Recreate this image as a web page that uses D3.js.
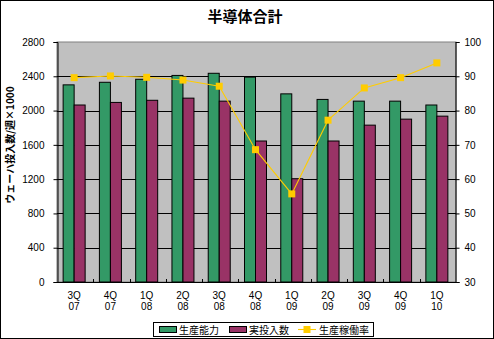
<!DOCTYPE html>
<html>
<head>
<meta charset="utf-8">
<script src="https://cdn.jsdelivr.net/npm/d3@7"></script>
<style>
  html, body { margin: 0; padding: 0; background: #fff; }
  svg { display: block; }
  text { font-family: "Liberation Sans", "Noto Sans CJK JP", sans-serif; }
  .jp { font-family: "Noto Sans CJK JP", sans-serif; }
</style>
</head>
<body>
<svg id="chart" width="494" height="339"></svg>
<script>
// Quarterly semiconductor wafer capacity, actual starts and utilisation
const quarters = ["3Q|07", "4Q|07", "1Q|08", "2Q|08", "3Q|08", "4Q|08", "1Q|09", "2Q|09", "3Q|09", "4Q|09", "1Q|10"];
const capacity = [2300, 2330, 2365, 2410, 2435, 2390, 2195, 2130, 2110, 2110, 2065];
const starts   = [2065, 2095, 2120, 2145, 2110, 1645, 1205, 1645, 1830, 1900, 1935];
const utilization = [89.6, 90.1, 89.7, 88.9, 87.1, 68.6, 55.7, 77.2, 86.6, 89.6, 93.9];
const leftTicks = [0, 400, 800, 1200, 1600, 2000, 2400, 2800];
const rightTicks = [30, 40, 50, 60, 70, 80, 90, 100];

const svg = d3.select("#chart");
const W = 494, H = 339;
const plot = { left: 57, right: 456, top: 42, bottom: 282 };

// outer frame
svg.append("rect").attr("x", 0.5).attr("y", 0.5).attr("width", W - 1).attr("height", H - 1)
  .attr("fill", "#fff").attr("stroke", "#000");

// title
svg.append("text").attr("class", "jp").attr("x", 245).attr("y", 22)
  .attr("text-anchor", "middle").attr("font-size", 15).attr("font-weight", "bold")
  .text("半導体合計");

const x = d3.scaleBand().domain(quarters).range([plot.left, plot.right]);
const yL = d3.scaleLinear().domain([0, 2800]).range([plot.bottom, plot.top]);
const yR = d3.scaleLinear().domain([30, 100]).range([plot.bottom, plot.top]);

// plot background
svg.append("rect").attr("x", plot.left).attr("y", plot.top)
  .attr("width", plot.right - plot.left).attr("height", plot.bottom - plot.top)
  .attr("fill", "#C0C0C0").attr("stroke", "#808080");

// gridlines
svg.append("g").selectAll("line").data(leftTicks.filter(d => d > 0 && d < 2800)).join("line")
  .attr("x1", plot.left).attr("x2", plot.right)
  .attr("y1", d => Math.round(yL(d)) + 0.5).attr("y2", d => Math.round(yL(d)) + 0.5)
  .attr("stroke", "#000").attr("stroke-width", 1);

// bars
const barW = 11;
const gBars = svg.append("g");
quarters.forEach((q, i) => {
  const cx = x(q) + x.bandwidth() / 2 - 1;
  gBars.append("rect").attr("x", cx - barW).attr("y", yL(capacity[i]))
    .attr("width", barW).attr("height", yL(0) - yL(capacity[i]))
    .attr("fill", "#339966").attr("stroke", "#000").attr("stroke-width", 1);
  gBars.append("rect").attr("x", cx).attr("y", yL(starts[i]))
    .attr("width", barW).attr("height", yL(0) - yL(starts[i]))
    .attr("fill", "#993366").attr("stroke", "#000").attr("stroke-width", 1);
});

// utilisation line
const lineGen = d3.line().x((d, i) => x(quarters[i]) + x.bandwidth() / 2 - 1).y(d => yR(d));
svg.append("path").datum(utilization).attr("d", lineGen)
  .attr("fill", "none").attr("stroke", "#FFCC00").attr("stroke-width", 1.1);
svg.append("g").selectAll("rect").data(utilization).join("rect")
  .attr("x", (d, i) => x(quarters[i]) + x.bandwidth() / 2 - 1 - 3.5)
  .attr("y", d => yR(d) - 3.5).attr("width", 7).attr("height", 7)
  .attr("fill", "#FFCC00");

// left axis
const axL = svg.append("g").attr("transform", `translate(${plot.left + 0.5},0)`)
  .call(d3.axisLeft(yL).tickValues(leftTicks).tickSize(4).tickPadding(9).tickFormat(d3.format("d")));
axL.select(".domain").attr("stroke", "#000");
axL.selectAll("text").attr("font-size", 10).attr("fill", "#000");

// right axis
const axR = svg.append("g").attr("transform", `translate(${plot.right - 0.5},0)`)
  .call(d3.axisRight(yR).tickValues(rightTicks).tickSize(4).tickPadding(5).tickFormat(d3.format("d")));
axR.select(".domain").attr("stroke", "#000");
axR.selectAll("text").attr("font-size", 10).attr("fill", "#000");

// bottom axis line with boundary ticks
svg.append("line").attr("x1", plot.left).attr("x2", plot.right)
  .attr("y1", plot.bottom + 0.5).attr("y2", plot.bottom + 0.5).attr("stroke", "#000");
svg.append("g").selectAll("line").data(quarters.slice(1)).join("line")
  .attr("x1", d => Math.round(x(d)) + 0.5).attr("x2", d => Math.round(x(d)) + 0.5)
  .attr("y1", plot.bottom).attr("y2", plot.bottom - 3).attr("stroke", "#000");

// category labels (two lines)
const xl = svg.append("g").selectAll("text").data(quarters).join("text")
  .attr("text-anchor", "middle").attr("font-size", 10)
  .attr("x", d => x(d) + x.bandwidth() / 2 - 1);
xl.append("tspan").attr("y", 299).attr("x", d => x(d) + x.bandwidth() / 2 - 1).text(d => d.split("|")[0]);
xl.append("tspan").attr("y", 310).attr("x", d => x(d) + x.bandwidth() / 2 - 1).text(d => d.split("|")[1]);

// left axis title
svg.append("text").attr("class", "jp")
  .attr("transform", "translate(14,145) rotate(-90)")
  .attr("text-anchor", "middle").attr("font-size", 10).attr("font-weight", "bold")
  .text("ウェーハ投入数/週×1000");

// legend
const lg = svg.append("g");
lg.append("rect").attr("x", 153.5).attr("y", 322.5).attr("width", 220).attr("height", 14)
  .attr("fill", "#fff").attr("stroke", "#000");
lg.append("rect").attr("x", 159.5).attr("y", 326.5).attr("width", 17).attr("height", 6)
  .attr("fill", "#339966").attr("stroke", "#000");
lg.append("text").attr("class", "jp").attr("x", 179).attr("y", 333.5).attr("font-size", 10).text("生産能力");
lg.append("rect").attr("x", 229.5).attr("y", 326.5).attr("width", 17).attr("height", 6)
  .attr("fill", "#993366").attr("stroke", "#000");
lg.append("text").attr("class", "jp").attr("x", 249).attr("y", 333.5).attr("font-size", 10).text("実投入数");
lg.append("line").attr("x1", 298).attr("x2", 316).attr("y1", 329.5).attr("y2", 329.5)
  .attr("stroke", "#FFCC00").attr("stroke-width", 1.1);
lg.append("rect").attr("x", 303.5).attr("y", 326).attr("width", 7).attr("height", 7).attr("fill", "#FFCC00");
lg.append("text").attr("class", "jp").attr("x", 319).attr("y", 333.5).attr("font-size", 10).text("生産稼働率");
</script>
</body>
</html>
